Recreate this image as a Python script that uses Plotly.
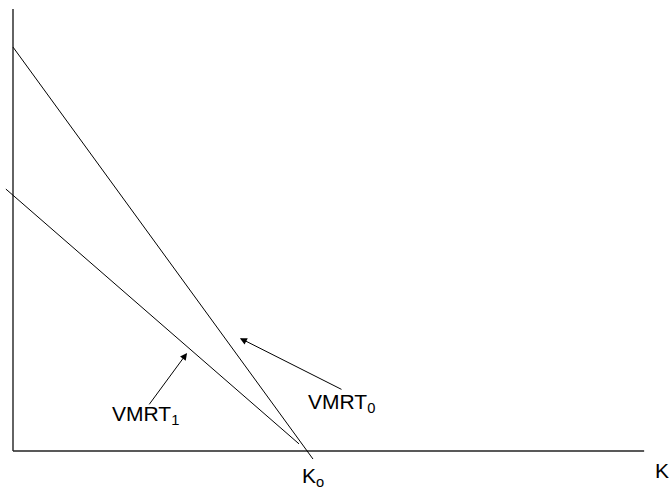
import plotly.graph_objects as go

# diagram values (K on the x axis, VMRT on the y axis)
K_o = 10.0
vmrt0_k = [0.0, 10.10]
vmrt0_v = [13.60, -0.27]
vmrt1_k = [-0.24, 9.63]
vmrt1_v = [8.82, 0.24]
axis_k = [0.0, 21.25]
axis_v = [0.0, 14.88]

FONT = "Liberation Sans, Arial, Helvetica, sans-serif"

W, H = 670, 496
PX = 29.7          # pixels per unit
ORIG_X, ORIG_Y = 13, 451

fig = go.Figure()

line_style = dict(color="black", width=1)
axis_style = dict(color="#222", width=1.4)

# axes drawn as plain lines
fig.add_trace(go.Scatter(x=[0, 0], y=axis_v, mode="lines", line=axis_style))
fig.add_trace(go.Scatter(x=axis_k, y=[0, 0], mode="lines", line=axis_style))

# the two schedules
fig.add_trace(go.Scatter(x=vmrt0_k, y=vmrt0_v, mode="lines", line=line_style))
fig.add_trace(go.Scatter(x=vmrt1_k, y=vmrt1_v, mode="lines", line=line_style))

# labels
labels = [
    ("VMRT<sub>0</sub>", 9.86, 1.62),
    ("VMRT<sub>1</sub>", 3.28, 1.21),
    ("K<sub>o</sub>", 9.66, -0.89),
    ("K", 21.55, -0.64),
]
for txt, x, y in labels:
    fig.add_annotation(x=x, y=y, text=txt, showarrow=False, xanchor="left",
                       yanchor="middle", font=dict(family=FONT, size=21, color="black"))

# arrows pointing at the lines
arrows = [
    (7.64, 3.80, 11.11, 2.05),
    (5.86, 3.30, 4.55, 1.52),
]
for hx, hy, tx, ty in arrows:
    fig.add_annotation(x=hx, y=hy, ax=tx, ay=ty, xref="x", yref="y",
                       axref="x", ayref="y", text="", showarrow=True,
                       arrowhead=2, arrowsize=1.4, arrowwidth=1, arrowcolor="black")

fig.update_xaxes(range=[-ORIG_X / PX, (W - ORIG_X) / PX], visible=False)
fig.update_yaxes(range=[-(H - ORIG_Y) / PX, ORIG_Y / PX], visible=False)
fig.update_layout(
    width=W, height=H,
    margin=dict(l=0, r=0, t=0, b=0),
    plot_bgcolor="white", paper_bgcolor="white",
    showlegend=False,
)

# drop the default page margin so the figure fills the window
fig.write_html("out.html", config={"displayModeBar": False},
               post_script="document.body.style.margin='0';document.body.style.overflow='hidden';")
